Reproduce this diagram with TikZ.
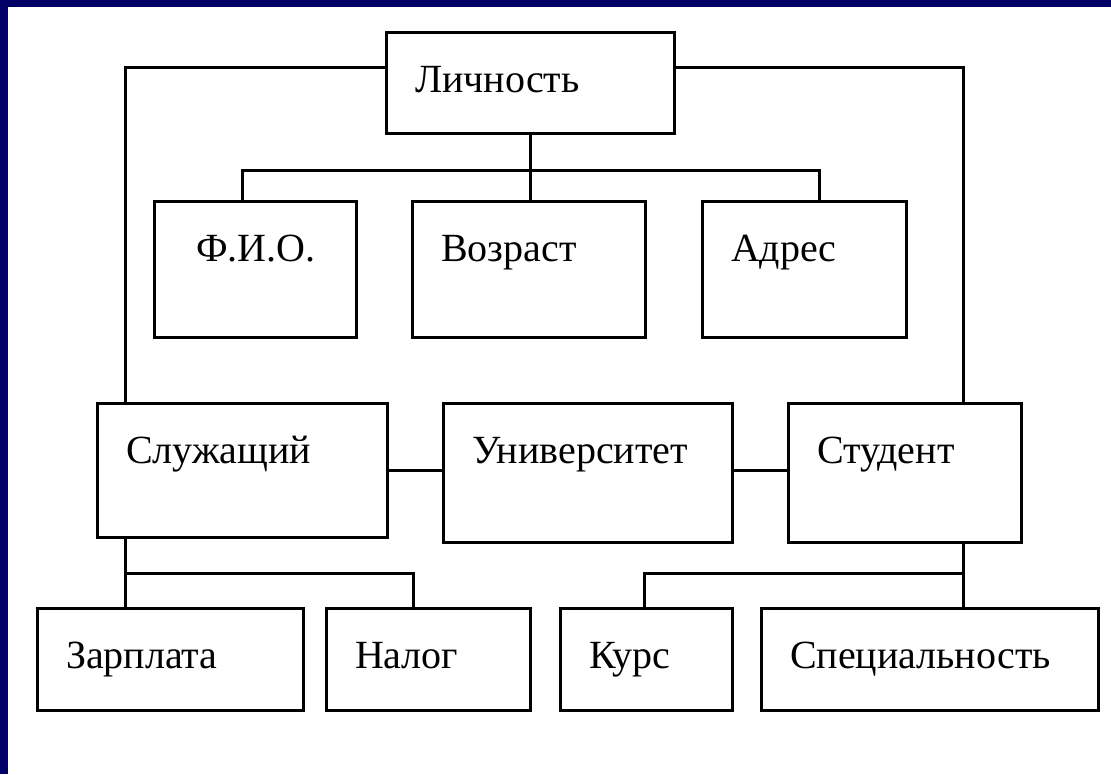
\documentclass[tikz,border=0pt]{standalone}
\usepackage{fontspec}
\setmainfont{Liberation Serif}
\usetikzlibrary{calc}
\definecolor{navy}{RGB}{0,0,102}

\begin{document}
\begin{tikzpicture}[x=1pt, y=-1pt,
			ent/.style={draw, line width=3pt, anchor=north west, outer sep=0pt,
				inner xsep=29pt, inner ysep=0pt, text height=60pt, align=left,
				font=\fontsize{40}{44}\selectfont},
			link/.style={line width=3pt}]
	\fill[white] (0,0) rectangle (1111,774);
	\fill[navy] (0,0) rectangle (1111,7);
	\fill[navy] (0,0) rectangle (8,774);
	\useasboundingbox (0,0) rectangle (1111,774);
	% boxes
	\node[ent, text width=230pt, text depth=41pt] (lich) at (386,32) {Личность};
	\node[ent, inner xsep=42pt, text width=118pt, text depth=76pt] (fio) at (154,201) {Ф.И.О.};
	\node[ent, text width=175pt, text depth=76pt] (vozr) at (412,201) {Возраст};
	\node[ent, text width=146pt, text depth=76pt] (adr) at (702,201) {Адрес};
	\node[ent, text width=232pt, text depth=74pt] (sluzh) at (97,403) {Служащий};
	\node[ent, text width=231pt, text depth=79pt] (univ) at (443,403) {Университет};
	\node[ent, text width=175pt, text depth=79pt] (stud) at (788,403) {Студент};
	\node[ent, text width=208pt, text depth=42pt] (zarp) at (37,608) {Зарплата};
	\node[ent, text width=146pt, text depth=42pt] (nalog) at (326,608) {Налог};
	\node[ent, text width=114pt, text depth=42pt] (kurs) at (560,608) {Курс};
	\node[ent, text width=279pt, text depth=42pt] (spec) at (761,608) {Специальность};
	% links
	\draw[link] ($(lich.north west)+(0,35)$) -| ($(sluzh.north west)+(28,0)$);
	\draw[link] ($(lich.north east)+(0,35)$) -| ($(stud.north west)+(175,0)$);
	\draw[link] (lich.south) -- (lich.south |- vozr.north);
	\draw[link] ($(fio.north west)+(88,0)$) -- ++(0,-31) -| ($(adr.north west)+(117,0)$);
	\draw[link] (sluzh.east) -- (sluzh.east -| univ.west);
	\draw[link] (univ.east |- sluzh.east) -- (stud.west |- sluzh.east);
	\draw[link] ($(sluzh.south west)+(28,0)$) -- ($(zarp.north west)+(88,0)$);
	\draw[link] ($(sluzh.south west)+(28,36)$) -| ($(nalog.north west)+(87,0)$);
	\draw[link] ($(stud.south west)+(175,0)$) -- ($(spec.north west)+(202,0)$);
	\draw[link] ($(stud.south west)+(175,31)$) -| ($(kurs.north west)+(84,0)$);
\end{tikzpicture}
\end{document}
